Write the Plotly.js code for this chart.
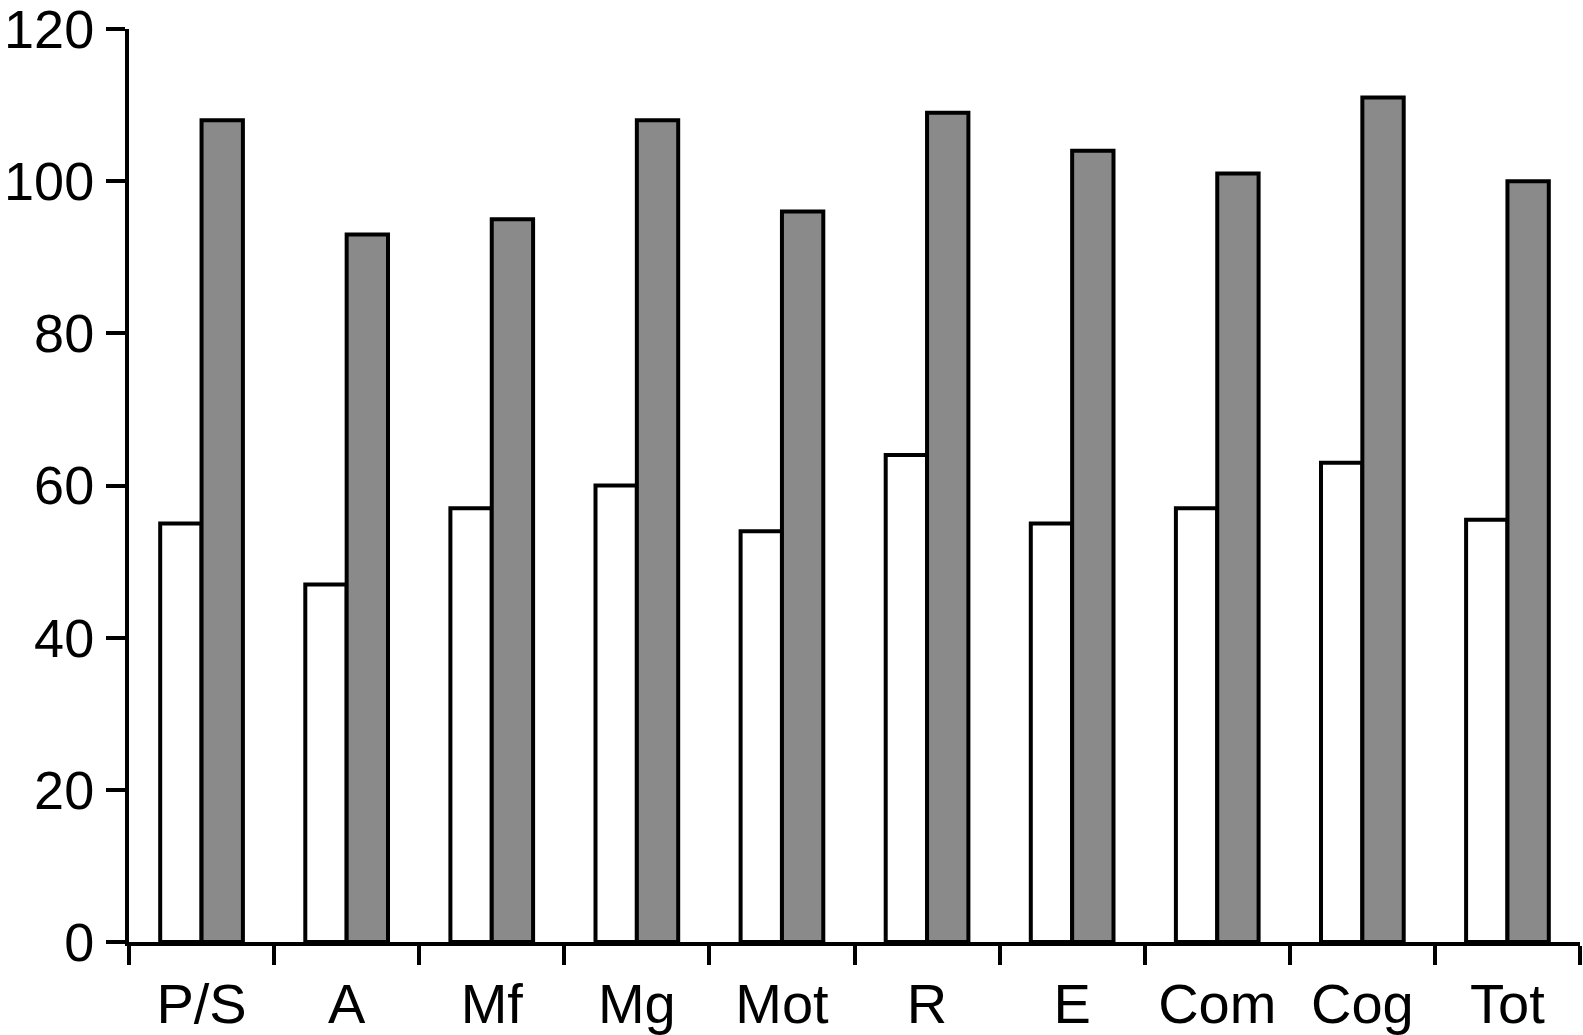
<!DOCTYPE html>
<html>
<head>
<meta charset="utf-8">
<script src="https://cdn.plot.ly/plotly-3.0.1.min.js"></script>
<style>
  html, body { margin: 0; padding: 0; background: #ffffff; }
  #chart { width: 1583px; height: 1035px; }
</style>
</head>
<body>
<div id="chart"></div>
<script>
const categories = ["P/S", "A", "Mf", "Mg", "Mot", "R", "E", "Com", "Cog", "Tot"];
const whiteValues = [55, 47, 57, 60, 54, 64, 55, 57, 63, 55.5];
const grayValues = [108, 93, 95, 108, 96, 109, 104, 101, 111, 100];
const yTickValues = [0, 20, 40, 60, 80, 100, 120];

const traces = [
  {
    type: "bar",
    x: categories,
    y: whiteValues,
    marker: { color: "#ffffff", line: { color: "#000000", width: 4 } },
    hoverinfo: "skip"
  },
  {
    type: "bar",
    x: categories,
    y: grayValues,
    marker: { color: "#8a8a8a", line: { color: "#000000", width: 4 } },
    hoverinfo: "skip"
  }
];

const layout = {
  width: 1583,
  height: 1035,
  margin: { l: 129, r: 3, t: 29, b: 93, pad: 0 },
  paper_bgcolor: "#ffffff",
  plot_bgcolor: "#ffffff",
  showlegend: false,
  barmode: "group",
  bargap: 0.43,
  bargroupgap: 0,
  font: { family: "Liberation Sans, Arial, sans-serif", size: 56, color: "#000000" },
  xaxis: {
    type: "category",
    range: [-0.5, 9.5],
    showline: true,
    linecolor: "#000000",
    linewidth: 4,
    ticks: "outside",
    tickson: "boundaries",
    ticklen: 19,
    tickwidth: 4,
    tickcolor: "#000000",
    showgrid: false,
    zeroline: false,
    ticklabelstandoff: 10,
    tickfont: { family: "Liberation Sans, Arial, sans-serif", size: 56, color: "#000000" }
  },
  yaxis: {
    range: [0, 120],
    tickvals: yTickValues,
    ticktext: yTickValues.map(String),
    showline: true,
    linecolor: "#000000",
    linewidth: 4,
    ticks: "outside",
    ticklen: 19,
    tickwidth: 4,
    tickcolor: "#000000",
    showgrid: false,
    zeroline: false,
    ticklabelstandoff: 1,
    ticklabeloverflow: "allow",
    tickfont: { family: "Liberation Sans, Arial, sans-serif", size: 54, color: "#000000" }
  }
};

Plotly.newPlot("chart", traces, layout, { displayModeBar: false, staticPlot: true });
</script>
</body>
</html>
